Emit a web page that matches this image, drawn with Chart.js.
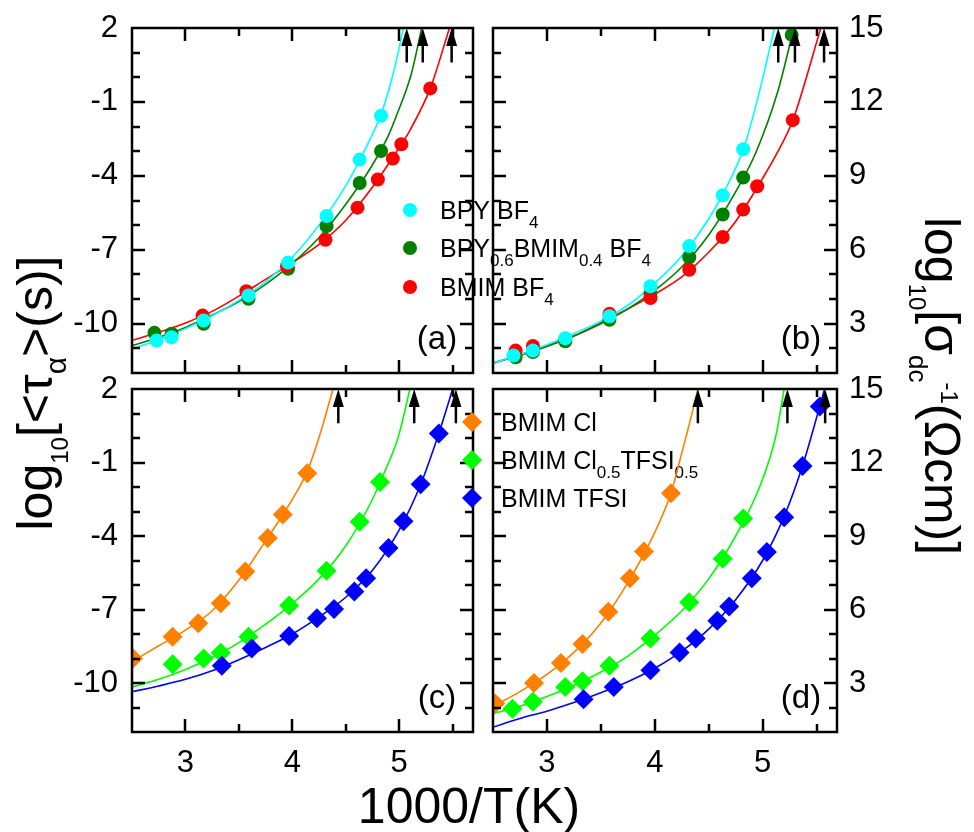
<!DOCTYPE html>
<html>
<head>
<meta charset="utf-8">
<script src="https://cdn.jsdelivr.net/npm/chart.js@4.4.1/dist/chart.umd.min.js"></script>
<style>
  html, body { margin: 0; padding: 0; background: #fff; }
  #wrap { position: relative; width: 974px; height: 832px; overflow: hidden; }
  #wrap canvas { position: absolute; left: 0; top: 0; }
</style>
</head>
<body>
<div id="wrap">
  <canvas id="panelA" width="974" height="832"></canvas>
  <canvas id="panelB" width="974" height="832"></canvas>
  <canvas id="panelC" width="974" height="832"></canvas>
  <canvas id="panelD" width="974" height="832"></canvas>
</div>
<script>
// === axes ===
const X_MIN = 2.5, X_MAX = 5.69;
const xTicks = [3, 4, 5];
const xMinor = [3.5, 4.5, 5.5];
const TAU_MIN = -12, TAU_MAX = 2;
const tauTicks = [-10, -7, -4, -1, 2];
const SIG_MIN = 1, SIG_MAX = 15;
const sigmaTicks = [3, 6, 9, 12, 15];

// === (a) log10 tau, BF4 salts ===
const bpyA_x = [2.73, 2.87, 3.17, 3.59, 3.96, 4.32, 4.63, 4.83];
const bpyA_y = [-10.68, -10.55, -9.87, -8.85, -7.52, -5.63, -3.34, -1.56];
const mixA_x = [2.71, 2.87, 3.17, 3.59, 3.96, 4.32, 4.63, 4.83];
const mixA_y = [-10.37, -10.41, -10.0, -8.99, -7.77, -6.04, -4.29, -2.99];
const bmimA_x = [3.16, 3.57, 3.95, 4.31, 4.61, 4.80, 4.94, 5.02, 5.29];
const bmimA_y = [-9.67, -8.68, -7.66, -6.59, -5.29, -4.15, -3.30, -2.72, -0.45];
// VFT fit curves
const bpyA_fx = [2.5, 2.75, 3.0, 3.25, 3.5, 3.75, 4.0, 4.25, 4.5, 4.7, 4.83, 4.94, 5.04];
const bpyA_fy = [-11.02, -10.65, -10.2, -9.68, -9.05, -8.3, -7.3, -6.0, -4.4, -2.75, -1.5, 0.09, 2.0];
const mixA_fx = [2.5, 2.75, 3.0, 3.25, 3.5, 3.75, 4.0, 4.25, 4.5, 4.75, 4.90, 4.97, 5.11, 5.21];
const mixA_fy = [-10.89, -10.55, -10.15, -9.65, -9.1, -8.4, -7.55, -6.5, -5.15, -3.55, -2.35, -1.6, 0.09, 2.0];
const bmimA_fx = [2.5, 2.75, 3.0, 3.25, 3.5, 3.75, 4.0, 4.25, 4.5, 4.75, 5.0, 5.1, 5.29, 5.47];
const bmimA_fy = [-10.68, -10.35, -9.97, -9.5, -8.88, -8.2, -7.52, -6.78, -5.8, -4.45, -2.85, -2.15, -0.45, 2.0];
const tgA = [5.07, 5.22, 5.49];

// === (b) log10 1/sigma_dc, BF4 salts ===
const bpyB_x = [2.69, 2.87, 3.17, 3.58, 3.96, 4.32, 4.63, 4.82];
const bpyB_y = [1.71, 1.91, 2.41, 3.30, 4.52, 6.15, 8.21, 10.08];
const mixB_x = [2.71, 2.87, 3.17, 3.58, 3.96, 4.32, 4.63, 4.82, 5.27];
const mixB_y = [1.64, 1.85, 2.29, 3.16, 4.22, 5.70, 7.43, 8.93, 14.72];
const bmimB_x = [2.71, 2.87, 3.58, 3.96, 4.32, 4.63, 4.82, 4.95, 5.28];
const bmimB_y = [1.91, 2.10, 3.40, 4.04, 5.19, 6.52, 7.63, 8.58, 11.26];
const bpyB_fx = [2.5, 2.75, 3.0, 3.25, 3.5, 3.75, 4.0, 4.25, 4.5, 4.7, 4.83, 4.97, 5.11];
const bpyB_fy = [1.40, 1.75, 2.15, 2.6, 3.1, 3.75, 4.65, 5.75, 7.25, 8.85, 10.18, 12.41, 15];
const mixB_fx = [2.5, 2.75, 3.0, 3.25, 3.5, 3.75, 4.0, 4.25, 4.5, 4.75, 4.94, 5.14, 5.29];
const mixB_fy = [1.40, 1.72, 2.08, 2.5, 3.0, 3.6, 4.35, 5.3, 6.6, 8.35, 9.97, 12.41, 15];
const bmimB_fx = [2.5, 2.75, 3.0, 3.25, 3.5, 3.75, 4.0, 4.25, 4.5, 4.75, 5.0, 5.14, 5.28, 5.54];
const bmimB_fy = [1.40, 1.75, 2.1, 2.5, 3.05, 3.6, 4.2, 4.9, 5.9, 7.15, 8.9, 9.97, 11.26, 15];
const tgB = [5.145, 5.30, 5.57];

// === (c) log10 tau, Cl / TFSI salts ===
const clC_x = [2.51, 2.88, 3.12, 3.33, 3.56, 3.77, 3.91, 4.14];
const clC_y = [-9.0, -8.11, -7.56, -6.74, -5.45, -4.08, -3.12, -1.44];
const mixC_x = [2.88, 3.17, 3.33, 3.59, 3.97, 4.32, 4.63, 4.82];
const mixC_y = [-9.23, -9.0, -8.77, -8.11, -6.84, -5.42, -3.42, -1.80];
const tfsiC_x = [3.34, 3.62, 3.97, 4.23, 4.39, 4.58, 4.69, 4.90, 5.04, 5.20, 5.37];
const tfsiC_y = [-9.30, -8.59, -8.08, -7.36, -6.98, -6.27, -5.72, -4.49, -3.40, -1.89, 0.18];
const clC_fx = [2.5, 2.75, 3.0, 3.25, 3.5, 3.75, 4.0, 4.14, 4.27, 4.38];
const clC_fy = [-9.13, -8.48, -7.84, -7.05, -5.8, -4.2, -2.5, -1.35, 0.31, 2.0];
const mixC_fx = [2.5, 2.75, 3.0, 3.25, 3.5, 3.75, 4.0, 4.25, 4.5, 4.75, 4.82, 4.99, 5.10];
const mixC_fy = [-10.16, -9.85, -9.45, -8.95, -8.35, -7.6, -6.75, -5.75, -4.4, -2.5, -1.8, 0.03, 2.0];
const tfsiC_fx = [2.5, 2.75, 3.0, 3.25, 3.5, 3.75, 4.0, 4.25, 4.5, 4.75, 5.0, 5.2, 5.37, 5.50];
const tfsiC_fy = [-10.36, -10.12, -9.85, -9.5, -9.05, -8.55, -8.0, -7.3, -6.5, -5.4, -3.75, -1.9, 0.18, 2.0];
const tgC = [4.43, 5.14, 5.53];

// === (d) log10 1/sigma_dc, Cl / TFSI salts ===
const clD_x = [2.52, 2.88, 3.13, 3.33, 3.57, 3.77, 3.90, 4.15];
const clD_y = [2.16, 3.0, 3.82, 4.59, 5.91, 7.28, 8.37, 10.74];
const mixD_x = [2.68, 2.87, 3.17, 3.33, 3.58, 3.96, 4.32, 4.63, 4.82];
const mixD_y = [1.95, 2.23, 2.84, 3.07, 3.70, 4.82, 6.30, 8.07, 9.71];
const tfsiD_x = [3.34, 3.62, 3.96, 4.23, 4.38, 4.58, 4.69, 4.90, 5.04, 5.20, 5.37, 5.53];
const tfsiD_y = [2.34, 2.84, 3.52, 4.25, 4.82, 5.54, 6.12, 7.28, 8.35, 9.77, 11.86, 14.29];
const clD_fx = [2.5, 2.75, 3.0, 3.25, 3.5, 3.75, 4.0, 4.15, 4.24, 4.36, 4.40];
const clD_fy = [2.05, 2.65, 3.35, 4.25, 5.45, 7.1, 9.15, 10.74, 12.21, 14.26, 15];
const mixD_fx = [2.5, 2.75, 3.0, 3.25, 3.5, 3.75, 4.0, 4.25, 4.5, 4.75, 4.97, 5.12, 5.20];
const mixD_fy = [1.75, 2.05, 2.45, 2.9, 3.45, 4.1, 4.95, 5.95, 7.25, 9.0, 10.98, 13.03, 15];
const tfsiD_fx = [2.5, 2.75, 3.0, 3.25, 3.5, 3.75, 4.0, 4.25, 4.5, 4.75, 5.0, 5.2, 5.37, 5.53, 5.575];
const tfsiD_fy = [1.20, 1.55, 1.85, 2.2, 2.6, 3.05, 3.6, 4.3, 5.2, 6.4, 8.0, 9.8, 11.86, 14.29, 15];
const tgD = [4.40, 5.23, 5.58];

const ARROW_LEN = 1.4;   // arrow length in y units

const FONT = "'Liberation Sans', Arial, Helvetica, sans-serif";
const CYAN = '#00FFFF', DKGREEN = '#008000', RED = '#FF0000';
const ORANGE = '#FF8000', LTGREEN = '#00FF00', BLUE = '#0000FF';

const pts = (xs, ys) => xs.map((v, i) => ({ x: v, y: ys[i] }));

// draws a run of [text, baselineShift, size] pieces, left or centered
function richText(ctx, parts, x, y, align) {
  let w = 0;
  parts.forEach(([t, , s]) => { ctx.font = s + 'px ' + FONT; w += ctx.measureText(t).width; });
  let cx = align === 'center' ? x - w / 2 : x;
  ctx.textAlign = 'left';
  ctx.textBaseline = 'alphabetic';
  parts.forEach(([t, dy, s]) => {
    ctx.font = s + 'px ' + FONT;
    ctx.fillText(t, cx, y + dy);
    cx += ctx.measureText(t).width;
  });
}

function drawLegend(ctx, items, mx, tx, ys, shape) {
  items.forEach((it, i) => {
    const y = ys[i];
    ctx.fillStyle = it.color;
    ctx.beginPath();
    if (shape === 'circle') {
      ctx.arc(mx, y, 7, 0, Math.PI * 2);
    } else {
      ctx.moveTo(mx, y - 10); ctx.lineTo(mx + 10, y);
      ctx.lineTo(mx, y + 10); ctx.lineTo(mx - 10, y);
      ctx.closePath();
    }
    ctx.fill();
    ctx.fillStyle = '#000';
    richText(ctx, it.parts, tx, y + 8.5, 'left');
  });
}

const legendBF4 = [
  { color: CYAN, parts: [['BPY BF', 0, 25], ['4', 9, 17]] },
  { color: DKGREEN, parts: [['BPY', 0, 25], ['0.6', 9, 17], ['BMIM', 0, 25], ['0.4', 9, 17], [' BF', 0, 25], ['4', 9, 17]] },
  { color: RED, parts: [['BMIM BF', 0, 25], ['4', 9, 17]] }
];
const legendAnion = [
  { color: ORANGE, parts: [['BMIM Cl', 0, 25]] },
  { color: LTGREEN, parts: [['BMIM Cl', 0, 25], ['0.5', 9, 17], ['TFSI', 0, 25], ['0.5', 9, 17]] },
  { color: BLUE, parts: [['BMIM TFSI', 0, 25]] }
];

// frame with inward major/minor ticks on all four sides
function drawFrame(chart, yMajor) {
  const ctx = chart.ctx;
  const a = chart.chartArea;
  const sx = chart.scales.x, sy = chart.scales.y;
  ctx.save();
  ctx.fillStyle = '#000';
  const xMarks = xTicks.map(v => [v, 13]).concat(xMinor.map(v => [v, 8]));
  xMarks.forEach(([v, len]) => {
    const px = Math.round(sx.getPixelForValue(v));
    ctx.fillRect(px - 1.25, a.top, 2.5, len);
    ctx.fillRect(px - 1.25, a.bottom - len, 2.5, len);
  });
  const lo = Math.round(sy.min) + 1, hi = Math.round(sy.max);
  for (let v = lo; v < hi; v++) {
    const py = Math.round(sy.getPixelForValue(v));
    const len = yMajor.indexOf(v) >= 0 ? 13 : 8;
    ctx.fillRect(a.left, py - 1.25, len, 2.5);
    ctx.fillRect(a.right - len, py - 1.25, len, 2.5);
  }
  ctx.strokeStyle = '#000';
  ctx.lineWidth = 2.5;
  ctx.strokeRect(a.left, a.top, a.right - a.left, a.bottom - a.top);
  ctx.restore();
}

// Tg markers: arrows pointing up at the top edge
function drawArrows(chart, tg) {
  const ctx = chart.ctx, a = chart.chartArea;
  const sx = chart.scales.x, sy = chart.scales.y;
  ctx.save();
  ctx.strokeStyle = '#000';
  ctx.fillStyle = '#000';
  ctx.lineWidth = 2.5;
  tg.forEach(v => {
    const px = sx.getPixelForValue(v);
    const tail = sy.getPixelForValue(sy.max - ARROW_LEN);
    ctx.beginPath();
    ctx.moveTo(px, tail); ctx.lineTo(px, a.top + 12);
    ctx.stroke();
    ctx.beginPath();
    ctx.moveTo(px, a.top);
    ctx.lineTo(px - 5.5, a.top + 18);
    ctx.lineTo(px + 5.5, a.top + 18);
    ctx.closePath();
    ctx.fill();
  });
  ctx.restore();
}

function decor(p) {
  return {
    id: 'decor',
    afterDraw(chart) {
      const ctx = chart.ctx, a = chart.chartArea;
      drawFrame(chart, p.yTicks);
      drawArrows(chart, p.tg);
      ctx.save();
      ctx.fillStyle = '#000';
      ctx.font = '33px ' + FONT;
      ctx.textAlign = 'center';
      ctx.textBaseline = 'middle';
      ctx.fillText(p.tag, a.right - 36, a.bottom - 33);
      if (p.extra) p.extra(ctx);
      ctx.restore();
    }
  };
}

// keep the plot frame exactly where the layout padding puts it
function noLabelPadding(sc) {
  sc.paddingTop = 0; sc.paddingBottom = 0;
  sc.paddingLeft = 0; sc.paddingRight = 0;
}

function buildPanel(id, p) {
  const datasets = [];
  p.series.forEach(s => {
    datasets.push({
      data: pts(s.x, s.y),
      showLine: false,
      pointStyle: s.shape,
      pointRadius: s.shape === 'circle' ? 7 : 10,
      backgroundColor: s.color,
      borderColor: s.color,
      borderWidth: 0,
      pointBorderWidth: 0,
      order: s.order
    });
    datasets.push({
      data: pts(s.fx, s.fy),
      showLine: true,
      borderColor: s.color,
      borderWidth: 1.6,
      pointRadius: 0,
      cubicInterpolationMode: 'monotone',
      fill: false,
      order: 10
    });
  });
  const onLeft = p.side === 'left';
  const tickFont = { family: FONT, size: 31 };
  return new Chart(document.getElementById(id), {
    type: 'scatter',
    data: { datasets },
    options: {
      responsive: false,
      animation: false,
      events: [],
      layout: { padding: p.pad },
      plugins: { legend: { display: false }, tooltip: { enabled: false } },
      scales: {
        x: {
          type: 'linear', position: 'bottom', min: X_MIN, max: X_MAX,
          afterBuildTicks: sc => { sc.ticks = xTicks.map(v => ({ value: v })); },
          afterFit: sc => { sc.height = p.showX ? 100 : 0; noLabelPadding(sc); },
          grid: { display: false, drawTicks: false }, border: { display: false },
          ticks: { display: p.showX, padding: 13, font: tickFont, color: '#000', callback: v => String(v) }
        },
        y: {
          type: 'linear', position: p.side, min: p.yMin, max: p.yMax,
          afterBuildTicks: sc => { sc.ticks = p.yTicks.map(v => ({ value: v })); },
          afterFit: sc => { sc.width = onLeft ? 132 : 137; noLabelPadding(sc); },
          grid: { display: false, drawTicks: false }, border: { display: false },
          ticks: { padding: onLeft ? 14 : 12, font: tickFont, color: '#000', callback: v => String(v) }
        }
      }
    },
    plugins: [decor(p)]
  });
}

buildPanel('panelA', {
  side: 'left', showX: false, yMin: TAU_MIN, yMax: TAU_MAX, yTicks: tauTicks,
  pad: { left: 0, top: 28, right: 501, bottom: 459 }, tg: tgA, tag: '(a)',
  series: [
    { x: bpyA_x, y: bpyA_y, fx: bpyA_fx, fy: bpyA_fy, color: CYAN, shape: 'circle', order: 1 },
    { x: mixA_x, y: mixA_y, fx: mixA_fx, fy: mixA_fy, color: DKGREEN, shape: 'circle', order: 3 },
    { x: bmimA_x, y: bmimA_y, fx: bmimA_fx, fy: bmimA_fy, color: RED, shape: 'circle', order: 2 }
  ],
  extra: ctx => drawLegend(ctx, legendBF4, 410, 440, [210, 248, 287], 'circle')
});

buildPanel('panelB', {
  side: 'right', showX: false, yMin: SIG_MIN, yMax: SIG_MAX, yTicks: sigmaTicks,
  pad: { left: 493, top: 28, right: 0, bottom: 459 }, tg: tgB, tag: '(b)',
  series: [
    { x: bpyB_x, y: bpyB_y, fx: bpyB_fx, fy: bpyB_fy, color: CYAN, shape: 'circle', order: 1 },
    { x: mixB_x, y: mixB_y, fx: mixB_fx, fy: mixB_fy, color: DKGREEN, shape: 'circle', order: 3 },
    { x: bmimB_x, y: bmimB_y, fx: bmimB_fx, fy: bmimB_fy, color: RED, shape: 'circle', order: 2 }
  ]
});

buildPanel('panelC', {
  side: 'left', showX: true, yMin: TAU_MIN, yMax: TAU_MAX, yTicks: tauTicks,
  pad: { left: 0, top: 389, right: 501, bottom: 0 }, tg: tgC, tag: '(c)',
  series: [
    { x: clC_x, y: clC_y, fx: clC_fx, fy: clC_fy, color: ORANGE, shape: 'rectRot', order: 3 },
    { x: mixC_x, y: mixC_y, fx: mixC_fx, fy: mixC_fy, color: LTGREEN, shape: 'rectRot', order: 2 },
    { x: tfsiC_x, y: tfsiC_y, fx: tfsiC_fx, fy: tfsiC_fy, color: BLUE, shape: 'rectRot', order: 1 }
  ],
  extra: ctx => drawLegend(ctx, legendAnion, 472, 501, [422, 460, 498], 'diamond')
});

buildPanel('panelD', {
  side: 'right', showX: true, yMin: SIG_MIN, yMax: SIG_MAX, yTicks: sigmaTicks,
  pad: { left: 493, top: 389, right: 0, bottom: 0 }, tg: tgD, tag: '(d)',
  series: [
    { x: clD_x, y: clD_y, fx: clD_fx, fy: clD_fy, color: ORANGE, shape: 'rectRot', order: 3 },
    { x: mixD_x, y: mixD_y, fx: mixD_fx, fy: mixD_fy, color: LTGREEN, shape: 'rectRot', order: 2 },
    { x: tfsiD_x, y: tfsiD_y, fx: tfsiD_fx, fy: tfsiD_fy, color: BLUE, shape: 'rectRot', order: 1 }
  ],
  // shared axis titles
  extra: ctx => {
    ctx.fillStyle = '#000';
    richText(ctx, [['1000/T(K)', 0, 50]], 469, 823, 'center');
    ctx.save();
    ctx.translate(52, 393);
    ctx.rotate(-Math.PI / 2);
    richText(ctx, [['log', 0, 50], ['10', 16, 24], ['[<τ', 0, 50], ['α', 14, 30], ['>(s)]', 0, 50]], 0, 0, 'center');
    ctx.restore();
    ctx.save();
    ctx.translate(925, 386);
    ctx.rotate(Math.PI / 2);
    richText(ctx, [['log', 0, 50], ['10', 16, 24], ['[σ', 0, 50], ['dc', 16, 26], ['-1', -16, 24], ['(Ωcm)]', 0, 50]], 0, 0, 'center');
    ctx.restore();
  }
});
</script>
</body>
</html>
